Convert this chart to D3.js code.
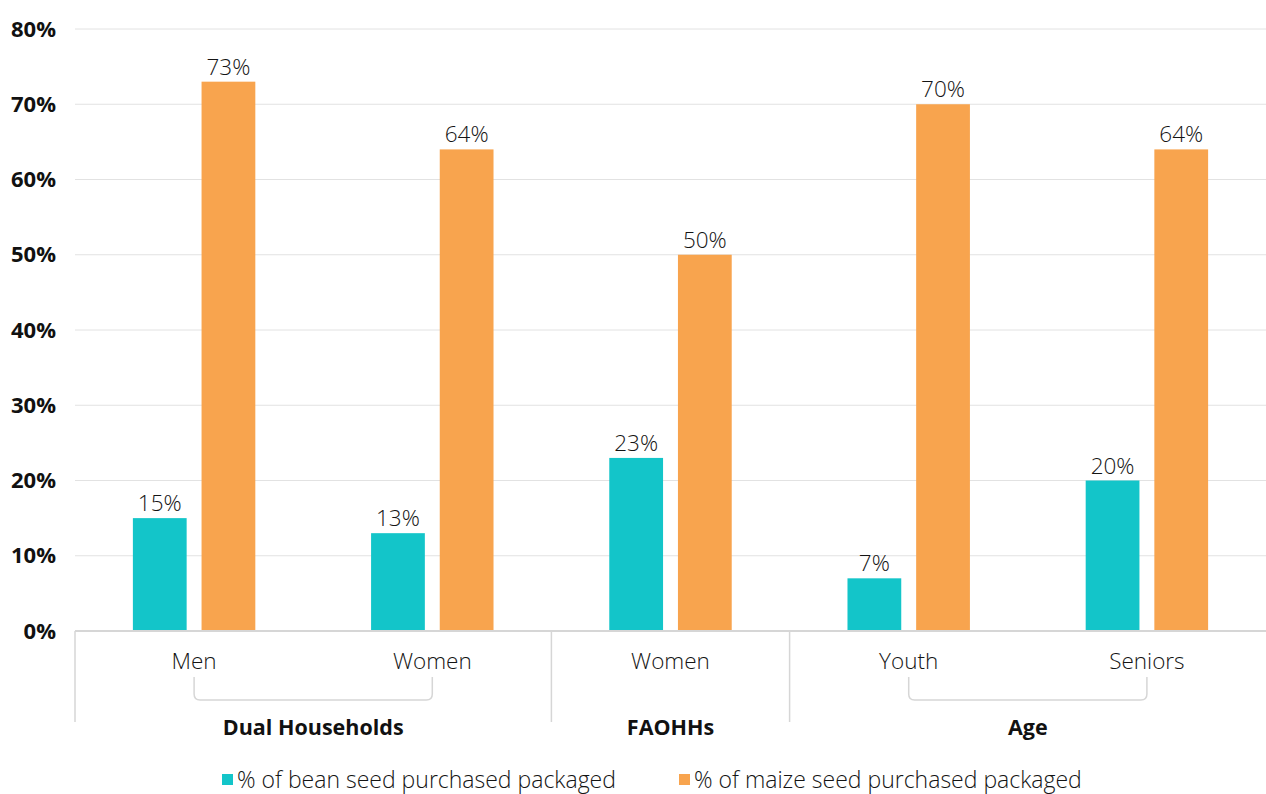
<!DOCTYPE html>
<html>
<head>
<meta charset="utf-8">
<script src="https://cdn.jsdelivr.net/npm/d3@7"></script>
<style>
  body { margin: 0; background: #fff; }
  svg text { font-family: "Open Sans", Lato, sans-serif; }
</style>
</head>
<body>
<svg id="chart" width="1266" height="794"></svg>
<script>
// Categories along the x axis, with their group
const categories = ["Men", "Women", "Women ", "Youth", "Seniors"];
const categoryLabels = ["Men", "Women", "Women", "Youth", "Seniors"];
const groups = [
  { name: "Dual Households", from: 0, to: 1, bracket: true },
  { name: "FAOHHs", from: 2, to: 2, bracket: false },
  { name: "Age", from: 3, to: 4, bracket: true }
];
const beanValues = [15, 13, 23, 7, 20];
const maizeValues = [73, 64, 50, 70, 64];
const seriesNames = ["% of bean seed purchased packaged", "% of maize seed purchased packaged"];
const seriesColors = ["#13C5C9", "#F8A44E"];
const yTicks = [0, 10, 20, 30, 40, 50, 60, 70, 80];

const svg = d3.select("#chart");
const margin = { left: 75, right: 0, top: 29, bottom: 163 };
const W = 1266, H = 794;
const plotBottom = H - margin.bottom; // 631

const x = d3.scaleBand().domain(categories).range([margin.left, W - margin.right]);
const inset = x.bandwidth() * 0.243;
const xs = d3.scaleBand().domain([0, 1]).range([inset, x.bandwidth() - inset]).paddingInner(0.217);
const y = d3.scaleLinear().domain([0, 80]).range([plotBottom, margin.top]);

const textColor = "#141414";
const lightWeight = 350;

// Gridlines
svg.append("g").selectAll("line").data(yTicks.filter(d => d > 0)).join("line")
  .attr("x1", margin.left).attr("x2", W)
  .attr("y1", d => y(d)).attr("y2", d => y(d))
  .attr("stroke", "#e2e2e2").attr("stroke-width", 1);

// Y tick labels
svg.append("g").selectAll("text").data(yTicks).join("text")
  .attr("x", 56).attr("y", d => y(d)).attr("dy", "0.35em")
  .attr("text-anchor", "end").attr("font-size", 22).attr("font-weight", 700)
  .attr("fill", "#111").text(d => d + "%");

// Bars
const series = [beanValues, maizeValues];
series.forEach((vals, si) => {
  const g = svg.append("g");
  g.selectAll("rect").data(vals).join("rect")
    .attr("x", (d, i) => x(categories[i]) + xs(si))
    .attr("width", xs.bandwidth())
    .attr("y", d => y(d))
    .attr("height", d => plotBottom - y(d))
    .attr("fill", seriesColors[si]);
  g.selectAll("text").data(vals).join("text")
    .attr("x", (d, i) => x(categories[i]) + xs(si) + xs.bandwidth() / 2)
    .attr("y", d => y(d) - 7)
    .attr("text-anchor", "middle").attr("font-size", 22.5).attr("font-weight", lightWeight)
    .attr("fill", textColor).text(d => d + "%");
});

// Baseline
svg.append("line").attr("x1", margin.left).attr("x2", W)
  .attr("y1", plotBottom).attr("y2", plotBottom)
  .attr("stroke", "#d6d6d6").attr("stroke-width", 2);

// Group separators
const sepX = [margin.left, x(categories[2]), x(categories[3])];
svg.append("g").selectAll("line").data(sepX).join("line")
  .attr("x1", d => d).attr("x2", d => d)
  .attr("y1", plotBottom).attr("y2", 722)
  .attr("stroke", "#d6d6d6").attr("stroke-width", 1.5);

// Category labels
svg.append("g").selectAll("text").data(categories).join("text")
  .attr("x", d => x(d) + x.bandwidth() / 2).attr("y", 661).attr("dy", "0.35em")
  .attr("text-anchor", "middle").attr("font-size", 22.5).attr("font-weight", lightWeight)
  .attr("fill", textColor).text((d, i) => categoryLabels[i]);

// Brackets and group labels
groups.forEach(gr => {
  const c0 = x(categories[gr.from]) + x.bandwidth() / 2;
  const c1 = x(categories[gr.to]) + x.bandwidth() / 2;
  if (gr.bracket) {
    const r = 6, top = 677, bot = 700;
    svg.append("path")
      .attr("d", `M${c0},${top} V${bot - r} Q${c0},${bot} ${c0 + r},${bot} H${c1 - r} Q${c1},${bot} ${c1},${bot - r} V${top}`)
      .attr("fill", "none").attr("stroke", "#d6d6d6").attr("stroke-width", 1.5);
  }
  svg.append("text")
    .attr("x", (c0 + c1) / 2).attr("y", 727).attr("dy", "0.35em")
    .attr("text-anchor", "middle").attr("font-size", 21.5).attr("font-weight", 700)
    .attr("fill", "#111").text(gr.name);
});

// Legend
const legendX = [222, 679];
seriesNames.forEach((name, i) => {
  svg.append("rect").attr("x", legendX[i]).attr("y", 774).attr("width", 11).attr("height", 11)
    .attr("fill", seriesColors[i]);
  svg.append("text").attr("x", legendX[i] + 15).attr("y", 780).attr("dy", "0.35em")
    .attr("font-size", 23).attr("font-weight", lightWeight)
    .attr("fill", textColor).text(name);
});
</script>
</body>
</html>
